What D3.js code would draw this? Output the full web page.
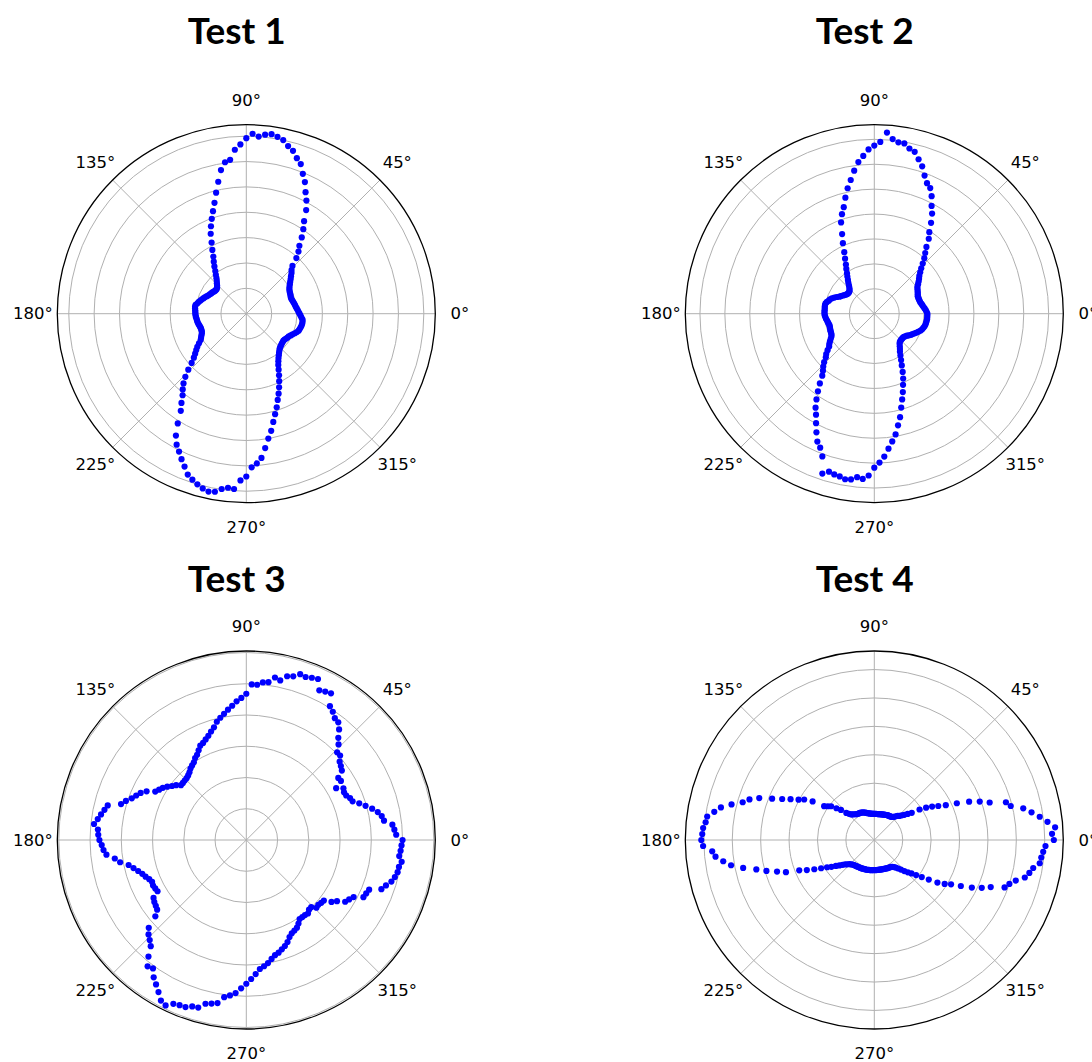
<!DOCTYPE html>
<html>
<head>
<meta charset="utf-8">
<script src="https://cdn.jsdelivr.net/npm/d3@7"></script>
<style>
  body { margin: 0; background: #ffffff; }
  svg { display: block; }
</style>
</head>
<body>
<svg id="chart" width="1092" height="1062"></svg>
<script>

// radius per angle sample, one sample every `angleStep` degrees starting at 0°
const angleStep = 2;

const test1 = [
  2.10, 2.06, 2.03, 2.00, 1.97, 1.95, 1.93, 1.91, 1.89, 1.87, 1.87, 1.88, 1.90, 1.91, 1.93, 1.96, 2.01, 2.07, 2.14, 2.22,
  2.30, 2.40, 2.48, 2.62, 2.95, 3.20, 3.40, 3.72, 4.02, 4.30, 4.72, 5.05, 5.33, 5.68, 5.95, 6.28, 6.45, 6.68, 6.81, 7.00,
  7.08, 7.15, 7.10, 7.00, 7.10, 6.92, 6.68, 6.48, 6.10, 6.03, 5.75, 5.32, 4.92, 4.55, 4.25, 3.98, 3.72, 3.45, 3.12, 2.85,
  2.60, 2.42, 2.25, 2.08, 1.95, 1.83, 1.74, 1.67, 1.60, 1.55, 1.52, 1.52, 1.53, 1.55, 1.58, 1.60, 1.63, 1.66, 1.70, 1.75,
  1.79, 1.84, 1.88, 1.93, 1.97, 2.03, 2.04, 2.03, 2.02, 2.01, 2.01, 2.00, 1.99, 1.97, 1.96, 1.95, 1.93, 1.91, 1.89, 1.88,
  1.88, 1.89, 1.92, 1.97, 2.02, 2.08, 2.20, 2.33, 2.44, 2.56, 2.70, 2.90, 3.18, 3.46, 3.70, 3.90, 4.08, 4.35, 4.62, 5.10,
  5.55, 5.85, 6.05, 6.28, 6.50, 6.75, 6.88, 7.00, 7.10, 7.17, 7.13, 6.98, 6.90, 6.93, 6.58, 6.42, 6.06, 5.92, 5.72, 5.35,
  5.00, 4.72, 4.40, 4.12, 3.88, 3.62, 3.40, 3.18, 2.96, 2.75, 2.55, 2.38, 2.26, 2.16, 2.08, 2.01, 1.95, 1.90, 1.87, 1.85,
  1.83, 1.82, 1.81, 1.82, 1.85, 1.88, 1.90, 1.95, 2.00, 2.06, 2.12, 2.17, 2.19, 2.21, 2.23, 2.24, 2.24, 2.23, 2.18, 2.14
];

const test2 = [
  2.13, 2.10, 2.07, 2.03, 1.99, 1.96, 1.93, 1.90, 1.89, 1.88, 1.88, 1.88, 1.91, 1.94, 1.97, 2.00, 2.04, 2.12, 2.20, 2.28,
  2.36, 2.48, 2.62, 2.80, 3.00, 3.18, 3.40, 3.72, 3.95, 4.30, 4.64, 4.90, 5.25, 5.52, 5.65, 5.90, 6.22, 6.45, 6.70, 6.78,
  6.94, 6.95, 7.05, 7.29, 6.90, 6.75, 6.60, 6.35, 6.12, 5.80, 5.45, 5.15, 4.80, 4.45, 4.20, 3.90, 3.45, 3.10, 2.75, 2.50,
  2.28, 2.12, 1.96, 1.84, 1.72, 1.62, 1.52, 1.44, 1.38, 1.34, 1.33, 1.33, 1.34, 1.37, 1.41, 1.46, 1.51, 1.56, 1.65, 1.73,
  1.81, 1.87, 1.90, 1.96, 2.00, 2.01, 2.01, 2.00, 2.00, 2.00, 2.00, 1.99, 1.97, 1.95, 1.92, 1.90, 1.88, 1.86, 1.86, 1.87,
  1.88, 1.89, 1.90, 1.91, 1.95, 2.02, 2.10, 2.18, 2.24, 2.38, 2.52, 2.62, 2.80, 2.95, 3.08, 3.25, 3.55, 3.85, 4.15, 4.45,
  4.68, 4.98, 5.30, 5.62, 5.80, 6.10, 6.75, 6.60, 6.65, 6.68, 6.75, 6.72, 6.60, 6.65, 6.50, 6.18, 5.98, 5.75, 5.45, 5.18,
  4.92, 4.58, 4.28, 3.92, 3.62, 3.35, 3.08, 2.85, 2.60, 2.35, 2.15, 1.98, 1.84, 1.75, 1.66, 1.58, 1.53, 1.51, 1.50, 1.50,
  1.50, 1.51, 1.54, 1.58, 1.64, 1.70, 1.74, 1.80, 1.86, 1.92, 1.98, 2.02, 2.05, 2.08, 2.10, 2.11, 2.12, 2.13, 2.13, 2.13
];

const test3 = [
  5.00, 4.80, 4.75, 4.70, 4.45, 4.40, 4.30, 4.15, 3.97, 3.80, 3.62, 3.58, 3.50, 3.48, 3.52, 3.32, 3.57, 3.55, 3.78, 3.84,
  3.90, 4.04, 4.04, 4.25, 4.40, 4.62, 4.78, 4.82, 4.95, 5.05, 5.42, 5.38, 5.33, 5.64, 5.60, 5.55, 5.58, 5.45, 5.40, 5.22,
  5.28, 5.10, 5.07, 4.98, 4.98, 4.68, 4.55, 4.45, 4.32, 4.21, 4.10, 4.00, 3.90, 3.75, 3.65, 3.55, 3.47, 3.40, 3.36, 3.25,
  3.15, 3.09, 3.00, 2.95, 2.90, 2.83, 2.78, 2.75, 2.74, 2.73, 2.73, 2.85, 2.94, 3.05, 3.15, 3.22, 3.30, 3.55, 3.70, 3.80,
  3.90, 4.05, 4.17, 4.57, 4.64, 4.72, 4.80, 4.90, 4.76, 4.74, 4.70, 4.63, 4.58, 4.50, 4.25, 4.10, 3.85, 3.72, 3.60, 3.50,
  3.43, 3.35, 3.30, 3.32, 3.30, 3.28, 3.50, 3.55, 3.58, 3.62, 3.80, 4.20, 4.35, 4.45, 4.57, 4.87, 5.13, 5.08, 5.30, 5.45,
  5.62, 5.82, 5.89, 5.74, 5.70, 5.69, 5.60, 5.58, 5.40, 5.35, 5.30, 5.08, 5.00, 4.91, 4.75, 4.60, 4.45, 4.30, 4.15, 4.08,
  4.00, 3.89, 3.80, 3.75, 3.68, 3.61, 3.52, 3.40, 3.32, 3.28, 3.24, 3.15, 3.05, 3.05, 3.05, 3.07, 3.00, 2.99, 3.12, 3.10,
  3.13, 3.15, 3.37, 3.50, 3.73, 3.80, 3.89, 4.17, 4.20, 4.24, 4.60, 4.70, 4.83, 4.90, 4.95, 4.96, 5.02, 4.92, 4.95, 4.97
];

const test4 = [
  6.32, 6.26, 6.38, 6.13, 5.88, 5.62, 5.36, 4.95, 4.82, 4.27, 3.95, 3.60, 3.18, 2.80, 2.55, 2.35, 2.15, 1.92, 1.63, 1.49,
  1.38, 1.30, 1.22, 1.18, 1.12, 1.06, 1.03, 1.01, 1.00, 1.00, 0.99, 0.99, 0.98, 0.97, 0.96, 0.95, 0.95, 0.94, 0.93, 0.93,
  0.92, 0.92, 0.92, 0.92, 0.92, 0.92, 0.92, 0.93, 0.93, 0.94, 0.95, 0.96, 0.97, 0.99, 1.01, 1.03, 1.05, 1.06, 1.07, 1.08,
  1.08, 1.09, 1.10, 1.12, 1.15, 1.18, 1.21, 1.28, 1.37, 1.58, 1.74, 1.93, 2.02, 2.13, 2.56, 2.85, 3.02, 3.28, 3.55, 3.88,
  4.31, 4.62, 4.82, 5.18, 5.52, 5.72, 5.94, 5.97, 6.04, 6.06, 6.09, 6.03, 5.72, 5.62, 5.37, 5.12, 4.72, 4.28, 3.95, 3.60,
  3.31, 2.85, 2.60, 2.35, 2.12, 1.92, 1.78, 1.63, 1.52, 1.42, 1.34, 1.28, 1.22, 1.19, 1.16, 1.14, 1.13, 1.12, 1.11, 1.11,
  1.10, 1.10, 1.10, 1.09, 1.09, 1.08, 1.08, 1.08, 1.08, 1.07, 1.07, 1.07, 1.07, 1.06, 1.06, 1.06, 1.06, 1.06, 1.06, 1.06,
  1.06, 1.06, 1.07, 1.07, 1.07, 1.08, 1.08, 1.09, 1.10, 1.10, 1.11, 1.11, 1.14, 1.18, 1.23, 1.31, 1.40, 1.52, 1.64, 1.76,
  1.92, 2.12, 2.37, 2.68, 2.92, 3.12, 3.45, 3.82, 4.14, 4.42, 4.88, 5.00, 5.18, 5.46, 5.58, 5.68, 5.88, 5.91, 5.96, 6.03
];

const titles = ['Test 1', 'Test 2', 'Test 3', 'Test 4'];
const series = [test1, test2, test3, test4];
const thetaTicks = [0, 45, 90, 135, 180, 225, 270, 315];

// panel centres and title baselines in page pixels
const panels = [
  {cx: 246.3, cy: 313.7, titleX: 236.7, titleY: 44.3},
  {cx: 874.3, cy: 313.7, titleX: 864.7, titleY: 44.3},
  {cx: 246.3, cy: 840.0, titleX: 236.7, titleY: 592.3},
  {cx: 874.3, cy: 840.0, titleX: 864.7, titleY: 592.3}
];

const radius = 189;
const labelPad = 24.5;

const svg = d3.select('#chart');

function polar(r, deg) {
  const a = deg * Math.PI / 180;
  return [r * Math.cos(a), -r * Math.sin(a)];
}

function drawPanel(values, title, panel) {

  const lo = d3.min(values);
  const hi = d3.max(values);
  // matplotlib-like 5% margin on top of the data range
  const rMax = hi + 0.05 * (hi - lo);

  const rScale = d3.scaleLinear().domain([0, rMax]).range([0, radius]);
  const rings = d3.range(1, Math.ceil(rMax)).filter((t) => t < rMax);

  const g = svg.append('g')
    .attr('transform', `translate(${panel.cx},${panel.cy})`);

  // grid circles
  g.append('g').attr('class', 'rings')
    .selectAll('circle')
    .data(rings)
    .join('circle')
    .attr('r', (d) => rScale(d))
    .attr('fill', 'none')
    .attr('stroke', '#b0b0b0')
    .attr('stroke-width', 1);

  // spokes
  g.append('g').attr('class', 'spokes')
    .selectAll('line')
    .data(thetaTicks)
    .join('line')
    .attr('x1', 0)
    .attr('y1', 0)
    .attr('x2', (d) => polar(radius, d)[0])
    .attr('y2', (d) => polar(radius, d)[1])
    .attr('stroke', '#b0b0b0')
    .attr('stroke-width', 1);

  // data points
  g.append('g').attr('class', 'points')
    .selectAll('circle')
    .data(values)
    .join('circle')
    .attr('cx', (d, i) => polar(rScale(d), i * angleStep)[0])
    .attr('cy', (d, i) => polar(rScale(d), i * angleStep)[1])
    .attr('r', 3.1)
    .attr('fill', '#0000ff');

  // outer frame
  g.append('circle')
    .attr('r', radius)
    .attr('fill', 'none')
    .attr('stroke', '#000000')
    .attr('stroke-width', 1.3);

  // angle labels
  g.append('g').attr('class', 'theta-labels')
    .selectAll('text')
    .data(thetaTicks)
    .join('text')
    .attr('x', (d) => polar(radius + labelPad, d)[0])
    .attr('y', (d) => polar(radius + labelPad, d)[1])
    .attr('text-anchor', 'middle')
    .attr('dominant-baseline', 'central')
    .style('font-family', '"DejaVu Sans", sans-serif')
    .style('font-size', '16.5px')
    .attr('fill', '#000000')
    .text((d) => `${d}°`);

  // title
  svg.append('text')
    .attr('x', panel.titleX)
    .attr('y', panel.titleY)
    .attr('text-anchor', 'middle')
    .style('font-family', 'Lato, "Open Sans", sans-serif')
    .style('font-weight', 'bold')
    .style('font-size', '37px')
    .attr('fill', '#000000')
    .text(title);
}

series.forEach((values, i) => drawPanel(values, titles[i], panels[i]));

</script>
</body>
</html>
